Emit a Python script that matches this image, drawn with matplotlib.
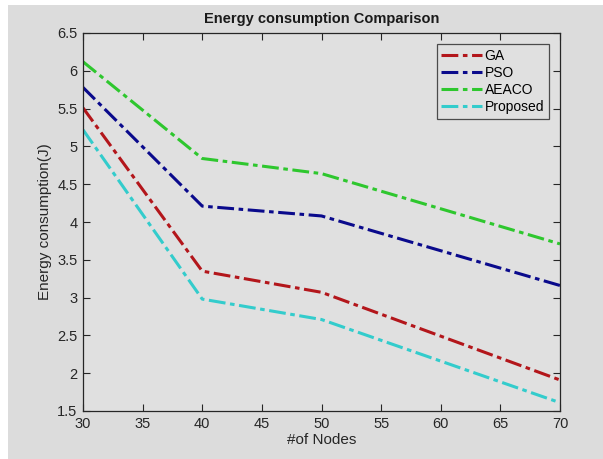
import matplotlib
matplotlib.use('Agg')
import matplotlib.pyplot as plt
from matplotlib.patches import Rectangle

# data
nodes = [30, 40, 50, 70]
ga = [5.51, 3.35, 3.07, 1.91]
pso = [5.78, 4.21, 4.08, 3.16]
aeaco = [6.12, 4.84, 4.64, 3.71]
proposed = [5.22, 2.98, 2.71, 1.61]

series_names = ['GA', 'PSO', 'AEACO', 'Proposed']
series_colors = ['#b3161b', '#0a0a8c', '#2ec72e', '#33cccc']

plt.rcParams['font.family'] = ['Liberation Sans', 'DejaVu Sans']

fig = plt.figure(figsize=(6.03, 4.59), dpi=100, facecolor='white')
# grey canvas with a thin white strip on top/left like the screenshot
fig.patches.append(Rectangle((8 / 603, -0.1), 2, 0.1 + (459 - 5) / 459,
                             transform=fig.transFigure, facecolor='#dcdcdc',
                             edgecolor='none', zorder=-10))

ax = fig.add_axes([83 / 603, (459 - 411) / 459, 477 / 603, 378 / 459])
ax.set_facecolor('#e0e0e0')

for vals, name, col in zip([ga, pso, aeaco, proposed], series_names, series_colors):
    ax.plot(nodes, vals, linestyle=(0, (5.5, 1.5, 1.5, 1.5)), color=col,
            linewidth=2.2, label=name)

ax.set_xlim(30, 70)
ax.set_ylim(1.5, 6.5)
ax.set_xticks(range(30, 71, 5))
ax.set_yticks([1.5, 2, 2.5, 3, 3.5, 4, 4.5, 5, 5.5, 6, 6.5])
ax.set_yticklabels(['1.5', '2', '2.5', '3', '3.5', '4', '4.5', '5', '5.5', '6', '6.5'])
ax.tick_params(direction='in', top=True, right=True, length=5, width=0.8,
               labelsize=10.5, colors='#262626', pad=4)
for sp in ax.spines.values():
    sp.set_color('#262626')
    sp.set_linewidth(0.9)

ax.set_title('Energy consumption Comparison', fontsize=10.5, fontweight='bold',
             color='#1a1a1a', pad=7)
ax.set_xlabel('#of Nodes', fontsize=11, color='#262626', labelpad=2)
ax.set_ylabel('Energy consumption(J)', fontsize=11, color='#262626', labelpad=4)

leg = ax.legend(loc='upper right', fontsize=10, frameon=True, fancybox=False,
                handlelength=2.9, handletextpad=0.2, borderpad=0.35,
                labelspacing=0.22, borderaxespad=0.8)
leg.get_frame().set_edgecolor('#262626')
leg.get_frame().set_facecolor('#e0e0e0')
leg.get_frame().set_linewidth(0.9)

fig.savefig('out.png', dpi=100, facecolor=fig.get_facecolor())
